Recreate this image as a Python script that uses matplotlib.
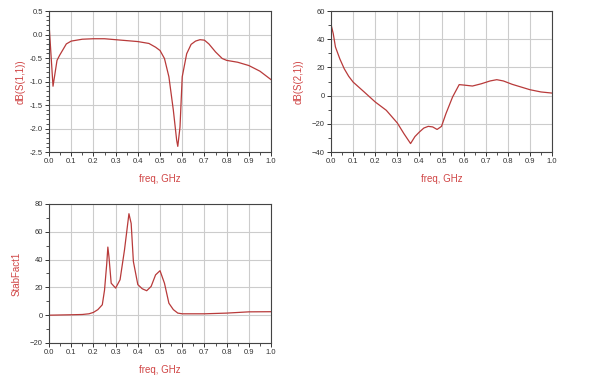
import numpy as np
import matplotlib
matplotlib.use('Agg')
import matplotlib.pyplot as plt
from matplotlib.ticker import MultipleLocator

plt.rcParams['font.family'] = ['Liberation Sans', 'DejaVu Sans']

# dB(S(1,1)) vs freq
f11 = [0.0, 0.018, 0.036, 0.048, 0.078, 0.1, 0.15, 0.2, 0.25, 0.3, 0.35, 0.4, 0.45,
       0.48, 0.5, 0.52, 0.54, 0.56, 0.575, 0.58, 0.59, 0.6, 0.62, 0.64, 0.66, 0.68,
       0.7, 0.72, 0.75, 0.78, 0.8, 0.85, 0.9, 0.95, 1.0]
s11 = [0.23, -1.10, -0.55, -0.44, -0.20, -0.14, -0.10, -0.09, -0.09, -0.11, -0.13,
       -0.15, -0.19, -0.27, -0.34, -0.51, -0.90, -1.61, -2.25, -2.38, -1.97, -0.90,
       -0.41, -0.21, -0.14, -0.11, -0.12, -0.20, -0.37, -0.51, -0.55, -0.59, -0.66,
       -0.78, -0.96]

# dB(S(2,1)) vs freq
f21 = [0.0, 0.01, 0.02, 0.04, 0.06, 0.08, 0.1, 0.15, 0.2, 0.25, 0.3, 0.33, 0.36,
       0.38, 0.4, 0.42, 0.44, 0.46, 0.48, 0.5, 0.52, 0.55, 0.58, 0.6, 0.64, 0.68,
       0.72, 0.75, 0.78, 0.82, 0.86, 0.9, 0.95, 1.0]
s21 = [50.5, 44.0, 34.5, 26.0, 19.0, 13.7, 9.6, 2.6, -4.5, -10.4, -19.4, -27.0,
       -34.0, -29.0, -25.8, -23.0, -21.8, -22.2, -24.0, -21.8, -12.8, -1.0, 7.8,
       7.5, 6.8, 8.4, 10.4, 11.3, 10.4, 8.0, 6.1, 4.2, 2.6, 1.8]

# StabFact1 vs freq
fk = [0.0, 0.1, 0.15, 0.18, 0.2, 0.22, 0.24, 0.25, 0.26, 0.265, 0.27, 0.28, 0.3,
      0.32, 0.34, 0.36, 0.37, 0.38, 0.4, 0.42, 0.44, 0.46, 0.48, 0.5, 0.52, 0.54,
      0.56, 0.58, 0.6, 0.7, 0.8, 0.9, 1.0]
stab = [0.0, 0.3, 0.5, 1.0, 2.0, 4.0, 7.5, 18.0, 37.0, 49.0, 42.0, 23.0, 19.5,
        25.5, 47.0, 73.0, 66.0, 38.6, 22.0, 19.0, 17.6, 20.7, 29.0, 32.0, 23.0,
        8.6, 4.0, 1.5, 1.0, 1.0, 1.5, 2.4, 2.5]

line_col = '#b83a3a'
label_col = '#d04545'

fig = plt.figure(figsize=(6, 3.76), dpi=100)
ax1 = fig.add_axes([0.0817, 0.5957, 0.37, 0.375])
ax2 = fig.add_axes([0.5517, 0.5957, 0.3683, 0.375])
ax3 = fig.add_axes([0.0817, 0.0878, 0.37, 0.3697])


def style(ax, ylim, ymaj, ymin, ylabel, ylpad):
    ax.set_xlim(0, 1.0)
    ax.set_ylim(*ylim)
    ax.xaxis.set_major_locator(MultipleLocator(0.1))
    ax.xaxis.set_minor_locator(MultipleLocator(0.05))
    ax.yaxis.set_major_locator(MultipleLocator(ymaj))
    ax.yaxis.set_minor_locator(MultipleLocator(ymin))
    ax.xaxis.set_major_formatter(plt.FormatStrFormatter('%.1f'))
    ax.grid(True, which='major', color='#cccccc', linewidth=0.8)
    ax.set_axisbelow(True)
    ax.tick_params(which='major', length=3, width=0.7, labelsize=5.5,
                   colors='#333333', pad=1.5)
    ax.tick_params(which='minor', length=2, width=0.6, colors='#333333')
    for sp in ax.spines.values():
        sp.set_color('#444444')
        sp.set_linewidth(0.8)
    ax.set_xlabel('freq, GHz', color=label_col, fontsize=7, labelpad=6)
    ax.set_ylabel(ylabel, color=label_col, fontsize=7, labelpad=ylpad)


ax1.plot(f11, s11, color=line_col, linewidth=0.9)
style(ax1, (-2.5, 0.5), 0.5, 0.1, 'dB(S(1,1))', 3)
ax1.yaxis.set_major_formatter(plt.FormatStrFormatter('%.1f'))

ax2.plot(f21, s21, color=line_col, linewidth=0.9)
style(ax2, (-40, 60), 20, 10, 'dB(S(2,1))', 6)

ax3.plot(fk, stab, color=line_col, linewidth=0.9)
style(ax3, (-20, 80), 20, 10, 'StabFact1', 6)

fig.savefig('out.png', dpi=100, facecolor='white')
